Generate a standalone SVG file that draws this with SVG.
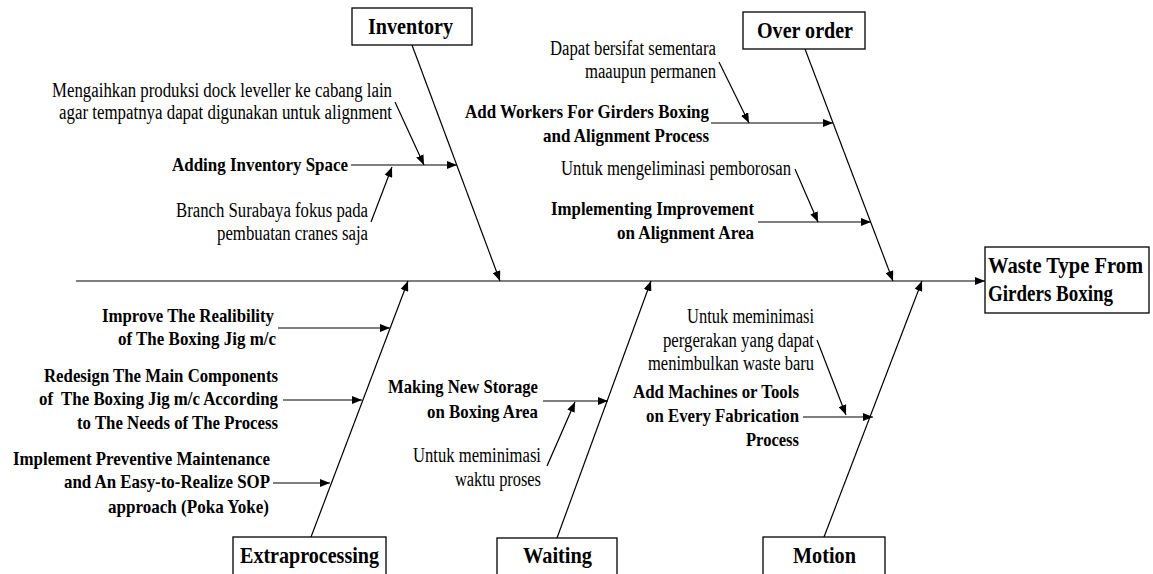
<svg xmlns="http://www.w3.org/2000/svg" width="1153" height="574" viewBox="0 0 1153 574">
<style>
text{font-family:"Liberation Serif","Times New Roman",serif;fill:#000}
.cat{font-size:23px;font-weight:bold}
.lbl{font-size:19px;font-weight:bold}
.cmt{font-size:20px}
.box{fill:#fff;stroke:#000;stroke-width:1.3}
.ln{stroke:#000;stroke-width:1.2;fill:none}
.ar{marker-end:url(#ah)}
</style>
<defs>
<marker id="ah" viewBox="0 0 10 8" refX="10" refY="4" markerWidth="10" markerHeight="8" markerUnits="userSpaceOnUse" orient="auto">
<path d="M0,0 L10,4 L0,8 z" fill="#000"/>
</marker>
</defs>
<rect width="1153" height="574" fill="#fff"/>
<g id="connectors">
<line class="ln ar" x1="76" y1="281" x2="985" y2="281"/>
<line class="ln ar" x1="412" y1="45" x2="500" y2="281"/>
<line class="ln ar" x1="805" y1="49" x2="893" y2="281"/>
<line class="ln ar" x1="311" y1="537" x2="408" y2="281"/>
<line class="ln ar" x1="557" y1="538" x2="651" y2="281"/>
<line class="ln ar" x1="824" y1="537" x2="922" y2="281"/>
<line class="ln ar" x1="351" y1="165" x2="457" y2="165"/>
<line class="ln ar" x1="395" y1="102" x2="424" y2="165"/>
<line class="ln ar" x1="371" y1="222" x2="392" y2="167"/>
<line class="ln ar" x1="711" y1="123" x2="833" y2="123"/>
<line class="ln ar" x1="719" y1="62" x2="749" y2="123"/>
<line class="ln ar" x1="758" y1="222" x2="871" y2="222"/>
<line class="ln ar" x1="795" y1="169" x2="818" y2="222"/>
<line class="ln ar" x1="278" y1="328" x2="390" y2="328"/>
<line class="ln ar" x1="283" y1="400" x2="362" y2="400"/>
<line class="ln ar" x1="273" y1="483" x2="330" y2="483"/>
<line class="ln ar" x1="543" y1="401" x2="608" y2="401"/>
<line class="ln ar" x1="547" y1="466" x2="575" y2="402"/>
<line class="ln ar" x1="803" y1="417" x2="873" y2="417"/>
<line class="ln ar" x1="817" y1="340" x2="846" y2="415"/>
</g>
<g id="effect">
<rect class="box" x="985" y="247" width="164" height="66"/>
<text class="cat" x="988" y="273" textLength="155" lengthAdjust="spacingAndGlyphs">Waste Type From</text>
<text class="cat" x="988" y="301" textLength="125" lengthAdjust="spacingAndGlyphs">Girders Boxing</text>
</g>
<g id="inventory">
<rect class="box" x="352" y="8" width="120" height="37"/>
<text class="cat" x="368" y="34" textLength="85" lengthAdjust="spacingAndGlyphs">Inventory</text>
</g>
<g id="over-order">
<rect class="box" x="743" y="12" width="122" height="37"/>
<text class="cat" x="757" y="38" textLength="96" lengthAdjust="spacingAndGlyphs">Over order</text>
</g>
<g id="extraprocessing">
<rect class="box" x="233" y="537" width="153" height="40"/>
<text class="cat" x="240" y="563" textLength="139" lengthAdjust="spacingAndGlyphs">Extraprocessing</text>
</g>
<g id="waiting">
<rect class="box" x="497" y="538" width="120" height="40"/>
<text class="cat" x="523" y="563" textLength="69" lengthAdjust="spacingAndGlyphs">Waiting</text>
</g>
<g id="motion">
<rect class="box" x="763" y="537" width="122" height="40"/>
<text class="cat" x="793" y="563" textLength="63" lengthAdjust="spacingAndGlyphs">Motion</text>
</g>
<g id="adding-inventory-space">
<text class="lbl" x="172" y="171" textLength="176" lengthAdjust="spacingAndGlyphs">Adding Inventory Space</text>
<text class="cmt" x="52" y="97" textLength="340" lengthAdjust="spacingAndGlyphs">Mengaihkan produksi dock leveller ke cabang lain</text>
<text class="cmt" x="59" y="119" textLength="333" lengthAdjust="spacingAndGlyphs">agar tempatnya dapat digunakan untuk alignment</text>
<text class="cmt" x="176" y="217" textLength="192" lengthAdjust="spacingAndGlyphs">Branch Surabaya fokus pada</text>
<text class="cmt" x="217" y="240" textLength="151" lengthAdjust="spacingAndGlyphs">pembuatan cranes saja</text>
</g>
<g id="add-workers">
<text class="cmt" x="550" y="55" textLength="166" lengthAdjust="spacingAndGlyphs">Dapat bersifat sementara</text>
<text class="cmt" x="585" y="78" textLength="131" lengthAdjust="spacingAndGlyphs">maaupun permanen</text>
<text class="lbl" x="465" y="118" textLength="244" lengthAdjust="spacingAndGlyphs">Add Workers For Girders Boxing</text>
<text class="lbl" x="543" y="142" textLength="166" lengthAdjust="spacingAndGlyphs">and Alignment Process</text>
</g>
<g id="implementing-improvement">
<text class="cmt" x="561" y="175" textLength="230" lengthAdjust="spacingAndGlyphs">Untuk mengeliminasi pemborosan</text>
<text class="lbl" x="551" y="215" textLength="203" lengthAdjust="spacingAndGlyphs">Implementing Improvement</text>
<text class="lbl" x="617" y="239" textLength="137" lengthAdjust="spacingAndGlyphs">on Alignment Area</text>
</g>
<g id="improve-reliability">
<text class="lbl" x="102" y="322" textLength="172" lengthAdjust="spacingAndGlyphs">Improve The Realibility</text>
<text class="lbl" x="118" y="345" textLength="158" lengthAdjust="spacingAndGlyphs">of The Boxing Jig m/c</text>
</g>
<g id="redesign">
<text class="lbl" x="44" y="382" textLength="234" lengthAdjust="spacingAndGlyphs">Redesign The Main Components</text>
<text class="lbl" x="39" y="405" textLength="239" lengthAdjust="spacingAndGlyphs" xml:space="preserve">of  The Boxing Jig m/c According</text>
<text class="lbl" x="77" y="429" textLength="201" lengthAdjust="spacingAndGlyphs">to The Needs of The Process</text>
</g>
<g id="preventive-maintenance">
<text class="lbl" x="13" y="465" textLength="257" lengthAdjust="spacingAndGlyphs">Implement Preventive Maintenance</text>
<text class="lbl" x="64" y="488" textLength="206" lengthAdjust="spacingAndGlyphs">and An Easy-to-Realize SOP</text>
<text class="lbl" x="108" y="513" textLength="161" lengthAdjust="spacingAndGlyphs">approach (Poka Yoke)</text>
</g>
<g id="new-storage">
<text class="lbl" x="388" y="393" textLength="150" lengthAdjust="spacingAndGlyphs">Making New Storage</text>
<text class="lbl" x="427" y="418" textLength="111" lengthAdjust="spacingAndGlyphs">on Boxing Area</text>
<text class="cmt" x="413" y="462" textLength="128" lengthAdjust="spacingAndGlyphs">Untuk meminimasi</text>
<text class="cmt" x="455" y="486" textLength="86" lengthAdjust="spacingAndGlyphs">waktu proses</text>
</g>
<g id="add-machines">
<text class="cmt" x="687" y="323" textLength="127" lengthAdjust="spacingAndGlyphs">Untuk meminimasi</text>
<text class="cmt" x="663" y="347" textLength="151" lengthAdjust="spacingAndGlyphs">pergerakan yang dapat</text>
<text class="cmt" x="648" y="370" textLength="166" lengthAdjust="spacingAndGlyphs">menimbulkan waste baru</text>
<text class="lbl" x="633" y="398" textLength="166" lengthAdjust="spacingAndGlyphs">Add Machines or Tools</text>
<text class="lbl" x="646" y="422" textLength="153" lengthAdjust="spacingAndGlyphs">on Every Fabrication</text>
<text class="lbl" x="746" y="446" textLength="53" lengthAdjust="spacingAndGlyphs">Process</text>
</g>
</svg>
